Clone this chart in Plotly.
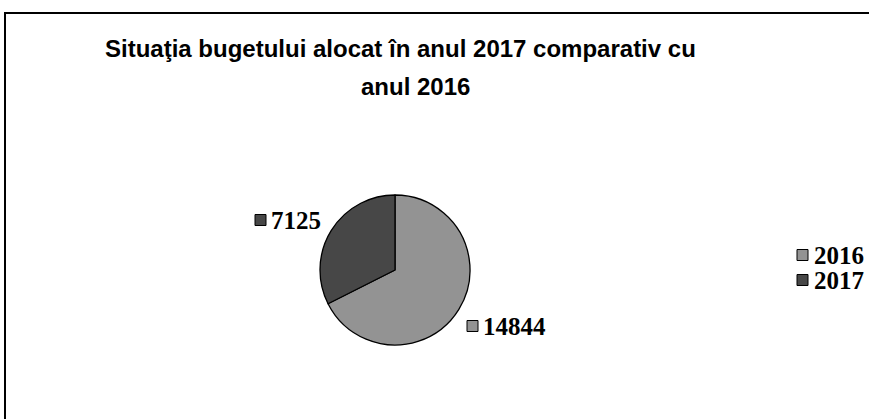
import plotly.graph_objects as go

years = ["2016", "2017"]
values = [14844, 7125]
colors = ["#939393", "#474747"]
title_lines = ["Situaţia bugetului alocat în anul 2017 comparativ cu", "anul 2016"]

W, H = 869, 419


def px(x):
    return x / W


def py(y):
    return 1 - y / H


cx, cy, r = 395, 270, 75

fig = go.Figure()
fig.add_trace(go.Pie(
    labels=years,
    values=values,
    sort=False,
    direction="clockwise",
    rotation=0,
    marker=dict(colors=colors, line=dict(color="#000000", width=1.3)),
    textinfo="none",
    hoverinfo="label+value",
    showlegend=False,
    domain=dict(x=[px(cx - r), px(cx + r)], y=[py(cy + r), py(cy - r)]),
))

shapes = []
# chart border (top and left visible)
shapes.append(dict(type="rect", xref="paper", yref="paper",
                   x0=px(5), x1=px(W + 20), y0=py(H + 20), y1=py(13),
                   line=dict(color="#000000", width=2), fillcolor="rgba(0,0,0,0)"))

annotations = []
title_pos = [(400, 49), (415, 86)]
for t, (tx, ty) in zip(title_lines, title_pos):
    annotations.append(dict(
        text=f"<b>{t}</b>", x=px(tx), y=py(ty),
        xref="paper", yref="paper", xanchor="center", yanchor="middle",
        showarrow=False, font=dict(family="Liberation Sans", size=24, color="#000000")))

label_font = dict(family="Liberation Serif", size=25, color="#000000")

# data labels with small key squares
label_pos = {"2017": (255, 220), "2016": (467, 326)}
for yr, v, c in zip(years, values, colors):
    sx, sy = label_pos[yr]
    shapes.append(dict(type="rect", xref="paper", yref="paper",
                       x0=px(sx), x1=px(sx + 11), y0=py(sy + 5.5), y1=py(sy - 5.5),
                       fillcolor=c, line=dict(color="#000000", width=1)))
    annotations.append(dict(
        text=f"<b>{v}</b>", x=px(sx + 14), y=py(sy), xref="paper", yref="paper",
        xanchor="left", yanchor="middle", showarrow=False, font=label_font))

# legend (key squares + labels)
legend_pos = {"2016": (797, 255), "2017": (797, 280)}
for yr, c in zip(years, colors):
    sx, sy = legend_pos[yr]
    shapes.append(dict(type="rect", xref="paper", yref="paper",
                       x0=px(sx), x1=px(sx + 11), y0=py(sy + 5.5), y1=py(sy - 5.5),
                       fillcolor=c, line=dict(color="#000000", width=1)))
    annotations.append(dict(
        text=f"<b>{yr}</b>", x=px(sx + 15), y=py(sy), xref="paper", yref="paper",
        xanchor="left", yanchor="middle", showarrow=False, font=label_font))

fig.update_layout(
    width=W, height=H,
    margin=dict(l=0, r=0, t=0, b=0),
    paper_bgcolor="#ffffff",
    plot_bgcolor="#ffffff",
    shapes=shapes,
    annotations=annotations,
    showlegend=False,
)

fig.write_html(
    "out.html",
    config={"displayModeBar": False},
    post_script="document.body.style.margin='0';document.body.style.overflow='hidden';",
)
